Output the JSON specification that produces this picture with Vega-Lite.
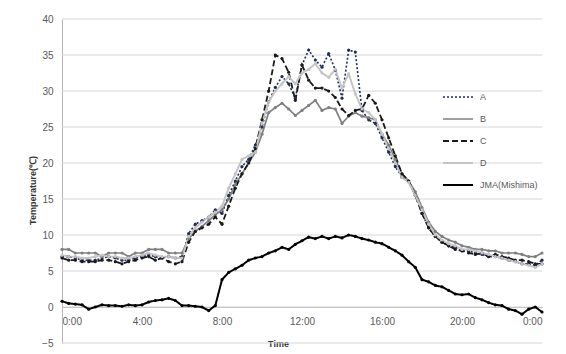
{
  "$schema": "https://vega.github.io/schema/vega-lite/v6.json",
  "width": 480,
  "height": 324,
  "autosize": {"type": "none"},
  "padding": {"left": 62, "top": 19, "right": 24, "bottom": 11},
  "background": "#ffffff",
  "config": {
    "view": {"stroke": null},
    "font": "Liberation Sans",
    "axis": {"labelFont": "Liberation Sans", "labelFontSize": 10, "labelColor": "#595959", "titleFont": "Liberation Sans", "titleFontSize": 9, "titleFontWeight": "bold", "titleColor": "#333333", "domainColor": "#b5b5b5", "ticks": false, "grid": false},
    "legend": {"labelFont": "Liberation Sans", "labelFontSize": 9, "labelColor": "#595959"}
  },
  "datasets": {
    "gridlines": [{"v": -5}, {"v": 0}, {"v": 5}, {"v": 10}, {"v": 15}, {"v": 20}, {"v": 25}, {"v": 30}, {"v": 35}, {"v": 40}],
    "temps": [
    {"t": 0, "A": 7.0, "B": 8.0, "C": 6.8, "D": 7.2, "JMA": 0.8},
    {"t": 20, "A": 7.0, "B": 8.0, "C": 6.5, "D": 7.0, "JMA": 0.5},
    {"t": 40, "A": 6.8, "B": 7.5, "C": 6.5, "D": 7.0, "JMA": 0.4},
    {"t": 60, "A": 6.5, "B": 7.5, "C": 6.3, "D": 6.8, "JMA": 0.3},
    {"t": 80, "A": 6.5, "B": 7.5, "C": 6.3, "D": 6.8, "JMA": -0.3},
    {"t": 100, "A": 6.5, "B": 7.5, "C": 6.3, "D": 7.0, "JMA": 0.0},
    {"t": 120, "A": 6.8, "B": 7.0, "C": 6.5, "D": 7.2, "JMA": 0.3},
    {"t": 140, "A": 7.0, "B": 7.5, "C": 6.5, "D": 7.0, "JMA": 0.2},
    {"t": 160, "A": 6.8, "B": 7.5, "C": 6.3, "D": 7.0, "JMA": 0.2},
    {"t": 180, "A": 6.5, "B": 7.5, "C": 6.0, "D": 6.8, "JMA": 0.1},
    {"t": 200, "A": 6.5, "B": 7.0, "C": 6.3, "D": 6.8, "JMA": 0.3},
    {"t": 220, "A": 6.8, "B": 7.5, "C": 6.5, "D": 7.0, "JMA": 0.2},
    {"t": 240, "A": 7.0, "B": 7.5, "C": 6.8, "D": 7.2, "JMA": 0.3},
    {"t": 260, "A": 7.2, "B": 8.0, "C": 7.0, "D": 7.5, "JMA": 0.7},
    {"t": 280, "A": 7.0, "B": 8.0, "C": 6.5, "D": 7.2, "JMA": 0.9},
    {"t": 300, "A": 6.8, "B": 8.0, "C": 6.8, "D": 7.0, "JMA": 1.0},
    {"t": 320, "A": 7.0, "B": 7.5, "C": 6.3, "D": 7.0, "JMA": 1.2},
    {"t": 340, "A": 6.8, "B": 7.5, "C": 6.0, "D": 6.8, "JMA": 0.9},
    {"t": 360, "A": 7.0, "B": 7.5, "C": 6.3, "D": 6.8, "JMA": 0.2},
    {"t": 380, "A": 10.2, "B": 9.5, "C": 9.0, "D": 9.8, "JMA": 0.2},
    {"t": 400, "A": 11.5, "B": 10.5, "C": 10.5, "D": 11.0, "JMA": 0.1},
    {"t": 420, "A": 12.0, "B": 11.2, "C": 11.0, "D": 11.8, "JMA": 0.0},
    {"t": 440, "A": 12.5, "B": 12.0, "C": 11.5, "D": 12.5, "JMA": -0.5},
    {"t": 460, "A": 13.5, "B": 12.8, "C": 12.5, "D": 13.2, "JMA": 0.2},
    {"t": 480, "A": 13.0, "B": 13.5, "C": 11.5, "D": 14.0, "JMA": 3.8},
    {"t": 500, "A": 15.5, "B": 15.0, "C": 14.0, "D": 16.5, "JMA": 4.8},
    {"t": 520, "A": 17.5, "B": 17.0, "C": 16.5, "D": 18.5, "JMA": 5.3},
    {"t": 540, "A": 19.5, "B": 18.5, "C": 18.5, "D": 20.5, "JMA": 5.8},
    {"t": 560, "A": 20.5, "B": 20.0, "C": 20.0, "D": 21.0, "JMA": 6.5},
    {"t": 580, "A": 22.5, "B": 21.5, "C": 22.0, "D": 21.5, "JMA": 6.8},
    {"t": 600, "A": 25.0, "B": 24.0, "C": 26.0, "D": 25.5, "JMA": 7.0},
    {"t": 620, "A": 28.5, "B": 27.0, "C": 30.0, "D": 28.5, "JMA": 7.5},
    {"t": 640, "A": 30.5, "B": 27.7, "C": 35.0, "D": 30.0, "JMA": 7.8},
    {"t": 660, "A": 32.0, "B": 28.3, "C": 34.5, "D": 31.0, "JMA": 8.3},
    {"t": 680, "A": 31.0, "B": 27.5, "C": 32.6, "D": 32.0, "JMA": 8.0},
    {"t": 700, "A": 29.0, "B": 26.6, "C": 28.7, "D": 31.0, "JMA": 8.7},
    {"t": 720, "A": 33.6, "B": 27.3, "C": 33.6, "D": 32.5, "JMA": 9.2},
    {"t": 740, "A": 35.7, "B": 28.0, "C": 31.5, "D": 33.0, "JMA": 9.7},
    {"t": 760, "A": 34.3, "B": 28.7, "C": 30.4, "D": 33.8, "JMA": 9.5},
    {"t": 780, "A": 33.3, "B": 27.3, "C": 30.4, "D": 32.5, "JMA": 9.8},
    {"t": 800, "A": 35.2, "B": 27.7, "C": 30.0, "D": 31.9, "JMA": 9.5},
    {"t": 820, "A": 32.9, "B": 27.5, "C": 29.1, "D": 33.0, "JMA": 9.8},
    {"t": 840, "A": 29.0, "B": 25.5, "C": 27.5, "D": 30.4, "JMA": 9.6},
    {"t": 860, "A": 35.7, "B": 26.5, "C": 26.6, "D": 32.4, "JMA": 10.0},
    {"t": 880, "A": 35.4, "B": 27.0, "C": 27.3, "D": 29.6, "JMA": 9.8},
    {"t": 900, "A": 27.3, "B": 26.5, "C": 27.5, "D": 27.5, "JMA": 9.5},
    {"t": 920, "A": 26.0, "B": 26.3, "C": 29.4, "D": 27.0, "JMA": 9.3},
    {"t": 940, "A": 25.5, "B": 26.0, "C": 28.3, "D": 26.0, "JMA": 9.0},
    {"t": 960, "A": 23.5, "B": 24.0, "C": 26.0, "D": 24.0, "JMA": 8.8},
    {"t": 980, "A": 21.5, "B": 22.5, "C": 23.5, "D": 22.0, "JMA": 8.3},
    {"t": 1000, "A": 19.5, "B": 20.5, "C": 21.0, "D": 20.0, "JMA": 7.8},
    {"t": 1020, "A": 18.0, "B": 18.5, "C": 18.5, "D": 18.0, "JMA": 7.2},
    {"t": 1040, "A": 17.5, "B": 17.5, "C": 17.5, "D": 17.3, "JMA": 6.3},
    {"t": 1060, "A": 15.5, "B": 16.0, "C": 15.5, "D": 15.5, "JMA": 5.5},
    {"t": 1080, "A": 13.0, "B": 13.8, "C": 13.0, "D": 13.5, "JMA": 3.8},
    {"t": 1100, "A": 11.0, "B": 11.8, "C": 11.0, "D": 11.5, "JMA": 3.5},
    {"t": 1120, "A": 9.8, "B": 10.5, "C": 9.8, "D": 10.0, "JMA": 3.0},
    {"t": 1140, "A": 9.0, "B": 9.8, "C": 9.0, "D": 9.3, "JMA": 2.8},
    {"t": 1160, "A": 8.5, "B": 9.3, "C": 8.5, "D": 8.8, "JMA": 2.3},
    {"t": 1180, "A": 8.3, "B": 9.0, "C": 8.0, "D": 8.5, "JMA": 1.8},
    {"t": 1200, "A": 7.8, "B": 8.5, "C": 7.8, "D": 8.0, "JMA": 1.7},
    {"t": 1220, "A": 7.8, "B": 8.3, "C": 7.5, "D": 8.0, "JMA": 1.8},
    {"t": 1240, "A": 7.5, "B": 8.0, "C": 7.3, "D": 7.8, "JMA": 1.3},
    {"t": 1260, "A": 7.3, "B": 8.0, "C": 7.5, "D": 7.5, "JMA": 1.0},
    {"t": 1280, "A": 7.0, "B": 7.8, "C": 7.0, "D": 7.3, "JMA": 0.6},
    {"t": 1300, "A": 7.0, "B": 7.8, "C": 7.3, "D": 7.0, "JMA": 0.3},
    {"t": 1320, "A": 6.8, "B": 7.5, "C": 7.0, "D": 6.8, "JMA": 0.2},
    {"t": 1340, "A": 6.5, "B": 7.5, "C": 6.8, "D": 6.5, "JMA": -0.3},
    {"t": 1360, "A": 6.3, "B": 7.5, "C": 6.5, "D": 6.3, "JMA": -0.5},
    {"t": 1380, "A": 6.0, "B": 7.3, "C": 6.5, "D": 6.0, "JMA": -1.0},
    {"t": 1400, "A": 6.0, "B": 7.0, "C": 6.3, "D": 5.8, "JMA": -0.3},
    {"t": 1420, "A": 5.8, "B": 7.0, "C": 6.0, "D": 5.5, "JMA": 0.0},
    {"t": 1440, "A": 6.5, "B": 7.5, "C": 6.0, "D": 6.0, "JMA": -0.7}
    ]
  },
  "layer": [
    {
      "data": {"name": "gridlines"},
      "mark": {"type": "rule", "color": "#d6d6d6", "strokeWidth": 1},
      "encoding": {
        "y": {"field": "v", "type": "quantitative", "scale": {"domain": [-5, 40], "nice": false},
          "axis": {"title": "Temperature(\u2103)", "values": [-5, 0, 5, 10, 15, 20, 25, 30, 35, 40], "labelPadding": 9, "titleX": -30, "titleY": 171, "titleAlign": "center", "titleBaseline": "middle"}}
      }
    },
    {
      "data": {"name": "temps"},
      "transform": [{"fold": ["A", "B", "C", "D", "JMA"], "as": ["series", "temp"]}],
      "encoding": {
        "x": {"field": "t", "type": "quantitative", "scale": {"domain": [0, 1440], "nice": false, "zero": false},
          "axis": {"title": "Time", "values": [0, 240, 480, 720, 960, 1200, 1440], "labelExpr": "(floor(datum.value / 60) % 24) + ':00'", "offset": -36, "labelPadding": 9, "titleX": 216, "titleY": 36, "titleBaseline": "middle", "titleAlign": "center"}},
        "y": {"field": "temp", "type": "quantitative", "scale": {"domain": [-5, 40], "nice": false},
          "axis": {"title": "Temperature(\u2103)", "values": [-5, 0, 5, 10, 15, 20, 25, 30, 35, 40], "labelPadding": 9, "titleX": -30, "titleY": 171, "titleAlign": "center", "titleBaseline": "middle"}},
        "color": {"field": "series", "type": "nominal",
          "scale": {"domain": ["A", "B", "C", "D", "JMA"], "range": ["#1f2d5a", "#7f7f7f", "#1a1a1a", "#c4c4c4", "#000000"]},
          "legend": {"title": null, "orient": "none", "legendX": 380, "legendY": 62, "symbolType": "stroke", "symbolSize": 900, "symbolStrokeWidth": 2, "rowPadding": 1, "labelOffset": 6, "labelExpr": "datum.label == 'JMA' ? 'JMA(Mishima)' : datum.label"}}
      },
      "layer": [
        {"mark": {"type": "line", "interpolate": "linear"},
          "encoding": {
            "strokeDash": {"field": "series", "type": "nominal", "scale": {"domain": ["A", "B", "C", "D", "JMA"], "range": [[2, 2], [1, 0], [6, 3], [1, 0], [1, 0]]}, "legend": {"title": null, "orient": "none", "legendX": 380, "legendY": 62, "symbolType": "stroke", "symbolSize": 900, "symbolStrokeWidth": 2, "rowPadding": 1, "labelOffset": 6, "labelExpr": "datum.label == 'JMA' ? 'JMA(Mishima)' : datum.label"}},
            "strokeWidth": {"field": "series", "type": "nominal", "scale": {"domain": ["A", "B", "C", "D", "JMA"], "range": [1.6, 2, 1.8, 3, 2.6]}, "legend": null}
          }},
        {"mark": {"type": "point", "filled": true, "size": 10, "opacity": 1},
          "encoding": {"shape": {"value": "circle"}}}
      ]
    }
  ]
}
